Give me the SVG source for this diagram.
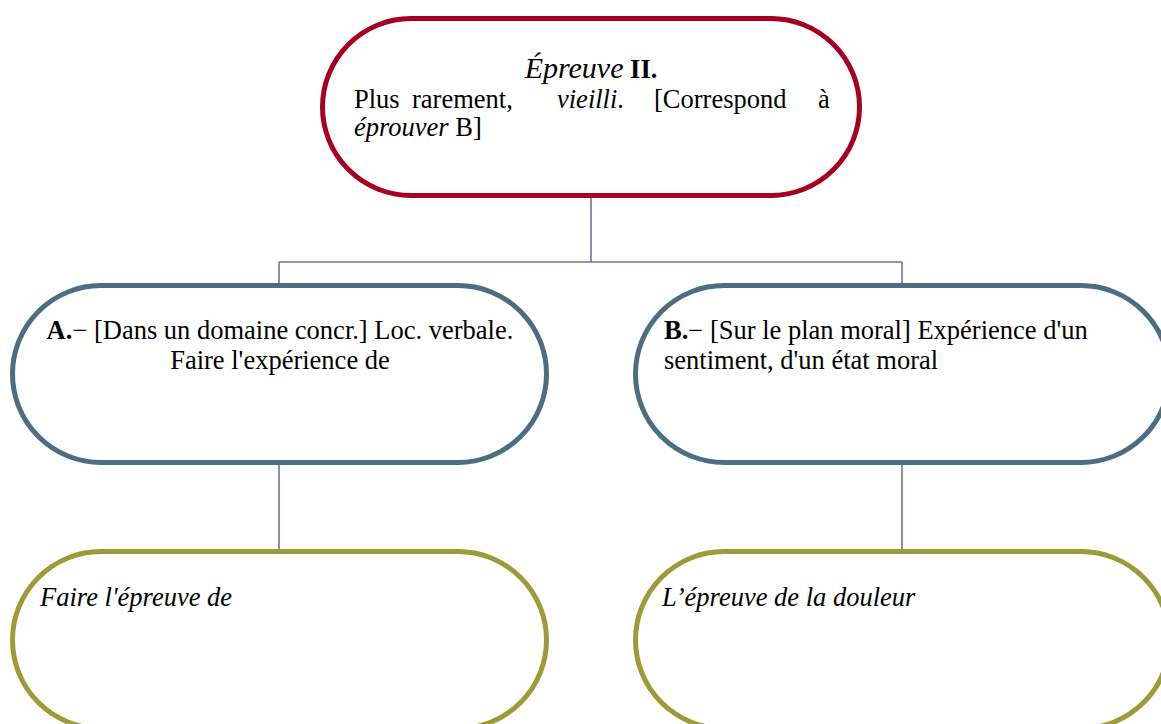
<svg xmlns="http://www.w3.org/2000/svg" width="1161" height="724" viewBox="0 0 1161 724">
<style>
.n{fill:#fff;stroke-width:5}
.top{stroke:#A50021}
.mid{stroke:#4D6E80}
.bot{stroke:#9B9B37}
.t{font-family:"Liberation Serif","Times New Roman",serif;font-size:26.5px;fill:#000}
.i{font-style:italic}
.b{font-weight:bold}
.c{fill:none;stroke:#7570A8;stroke-width:1.6}
</style>
<rect width="1161" height="724" fill="#fff"/>
<g id="connectors">
<path class="c" d="M591 196V262M279 262H902M279 262V285M902 262V285"/>
<path class="c" d="M279 464V551M902 464V551"/>
</g>
<g id="node-top">
<rect class="n top" x="322.5" y="18.5" width="537" height="177" rx="88.5"/>
<text class="t" x="591" y="78" text-anchor="middle"><tspan class="i" font-size="30">Épreuve</tspan> <tspan class="b">II.</tspan></text>
<text class="t" y="108"><tspan x="354">Plus</tspan><tspan x="412">rarement,</tspan><tspan class="i" x="557">vieilli</tspan>.<tspan x="654">[Correspond</tspan><tspan x="818">à</tspan></text>
<text class="t" x="354" y="136"><tspan class="i">éprouver</tspan> B]</text>
</g>
<g id="node-a">
<rect class="n mid" x="12.5" y="285.5" width="534" height="177" rx="88.5"/>
<text class="t" x="280" y="339" text-anchor="middle"><tspan class="b">A.</tspan>− [Dans un domaine concr.] Loc. verbale.</text>
<text class="t" x="280" y="369" text-anchor="middle">Faire l'expérience de</text>
</g>
<g id="node-b">
<rect class="n mid" x="635.5" y="285.5" width="534" height="177" rx="88.5"/>
<text class="t" x="664" y="339"><tspan class="b">B.</tspan>− [Sur le plan moral] Expérience d'un</text>
<text class="t" x="664" y="369">sentiment, d'un état moral</text>
</g>
<g id="node-a1">
<rect class="n bot" x="12.5" y="551.5" width="534" height="177" rx="88.5"/>
<text class="t i" x="40" y="606">Faire l'épreuve de</text>
</g>
<g id="node-b1">
<rect class="n bot" x="635.5" y="551.5" width="534" height="177" rx="88.5"/>
<text class="t i" x="662" y="606">L’épreuve de la douleur</text>
</g>
</svg>
